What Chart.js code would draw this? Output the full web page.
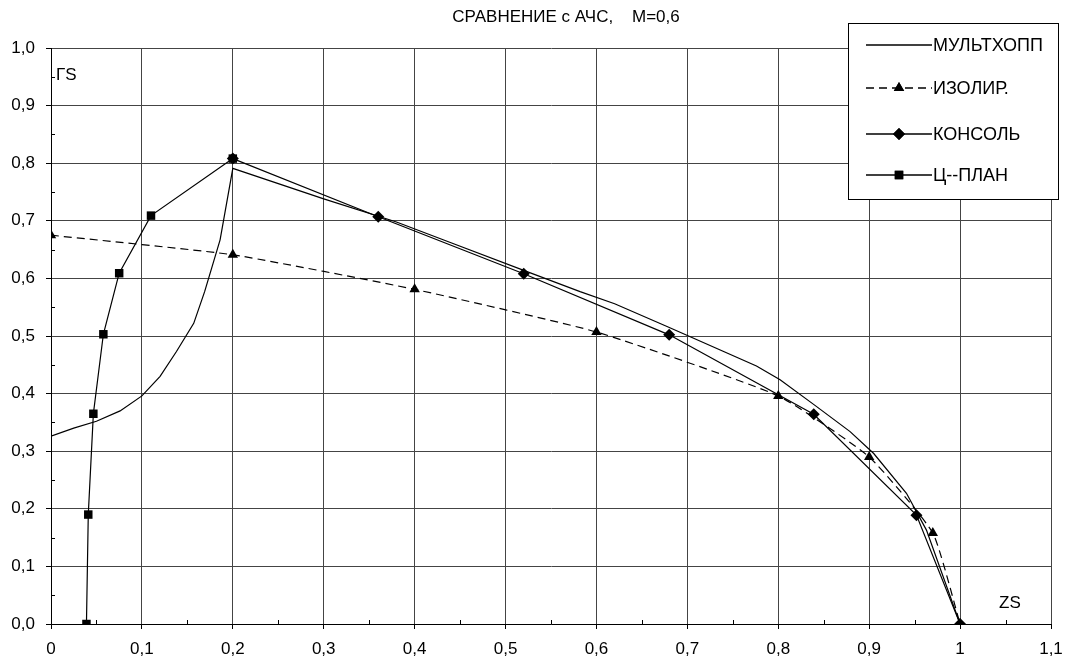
<!DOCTYPE html>
<html>
<head>
<meta charset="utf-8">
<script src="https://cdn.jsdelivr.net/npm/chart.js@4.4.0/dist/chart.umd.min.js"></script>
<style>
  html, body { margin: 0; padding: 0; background: #fff; }
  #wrap { width: 1067px; height: 660px; position: relative; }
</style>
</head>
<body>
<div id="wrap"><canvas id="LineChart"></canvas></div>
<script>
const chartTitle = "СРАВНЕНИЕ с АЧС,    M=0,6";
const xAxisName = "ZS";
const yAxisName = "ГS";

const xTickLabels = ["0", "0,1", "0,2", "0,3", "0,4", "0,5", "0,6", "0,7", "0,8", "0,9", "1", "1,1"];
const yTickLabels = ["0,0", "0,1", "0,2", "0,3", "0,4", "0,5", "0,6", "0,7", "0,8", "0,9", "1,0"];

const seriesNames = ["МУЛЬТХОПП", "ИЗОЛИР.", "КОНСОЛЬ", "Ц--ПЛАН"];

const multX = [0, 0.025, 0.05, 0.076, 0.1, 0.12, 0.138, 0.157, 0.169, 0.186, 0.2, 0.3, 0.38, 0.44, 0.52, 0.582, 0.62, 0.677, 0.776, 0.802, 0.84, 0.879, 0.905, 0.941, 0.963, 1.0];
const multY = [0.326, 0.34, 0.352, 0.37, 0.396, 0.43, 0.473, 0.522, 0.577, 0.667, 0.791, 0.738, 0.698, 0.662, 0.614, 0.577, 0.556, 0.517, 0.448, 0.424, 0.38, 0.334, 0.296, 0.227, 0.163, 0.0];

const izolX = [0, 0.2, 0.4, 0.6, 0.8, 0.9, 0.97, 1.0];
const izolY = [0.675, 0.641, 0.581, 0.507, 0.396, 0.29, 0.158, 0.0];

const konsX = [0.2, 0.36, 0.52, 0.68, 0.839, 0.952, 1.0];
const konsY = [0.808, 0.707, 0.608, 0.502, 0.364, 0.189, 0.0];

const planX = [0.039, 0.041, 0.0466, 0.0576, 0.075, 0.11, 0.2];
const planY = [0.0, 0.19, 0.365, 0.503, 0.609, 0.709, 0.808];

const FONT = "'Liberation Sans', Arial, sans-serif";

function toPoints(xs, ys) {
  return xs.map((x, i) => ({ x: x, y: ys[i] }));
}

function lineDataset(label, data, opts) {
  return Object.assign({
    label: label,
    data: data,
    borderColor: "#000",
    backgroundColor: "#000",
    borderWidth: 1.2,
    pointBorderColor: "#000",
    pointBackgroundColor: "#000",
    pointBorderWidth: 0,
    pointRadius: 0,
    tension: 0,
    fill: false,
  }, opts);
}

// minor ticks, axis names, title and boxed legend
const extrasPlugin = {
  id: "extras",
  afterDraw(chart) {
    const { ctx, chartArea, scales } = chart;
    const xs = scales.x, ys = scales.y;
    ctx.save();
    ctx.strokeStyle = "#000";
    ctx.lineWidth = 1;
    for (let v = 0.05; v < 1.1; v += 0.1) {
      const px = Math.round(xs.getPixelForValue(v)) + 0.5;
      ctx.beginPath();
      ctx.moveTo(px, chartArea.bottom);
      ctx.lineTo(px, chartArea.bottom - 4);
      ctx.stroke();
    }
    for (let v = 0.05; v < 1.0; v += 0.1) {
      const py = Math.round(ys.getPixelForValue(v)) + 0.5;
      ctx.beginPath();
      ctx.moveTo(chartArea.left, py);
      ctx.lineTo(chartArea.left + 4, py);
      ctx.stroke();
    }

    ctx.fillStyle = "#000";
    ctx.font = "17px " + FONT;
    ctx.textAlign = "center";
    ctx.textBaseline = "middle";
    ctx.fillText(chartTitle, 566, 17);

    ctx.textAlign = "left";
    ctx.fillText(yAxisName, 56, 75);
    ctx.fillText(xAxisName, 999, 603);

    // legend box
    const bx = 848, by = 23, bw = 210, bh = 176;
    ctx.fillStyle = "#fff";
    ctx.fillRect(bx, by, bw, bh);
    ctx.strokeStyle = "#000";
    ctx.lineWidth = 1;
    ctx.strokeRect(bx + 0.5, by + 0.5, bw, bh);
    const rows = [45, 88, 134, 175];
    ctx.font = "18px " + FONT;
    chart.data.datasets.forEach((ds, i) => {
      const y = rows[i];
      ctx.strokeStyle = "#000";
      ctx.lineWidth = 1.3;
      ctx.setLineDash(ds.borderDash ? [8, 5] : []);
      ctx.beginPath();
      ctx.moveTo(866, y);
      ctx.lineTo(932, y);
      ctx.stroke();
      ctx.setLineDash([]);
      if (ds.pointRadius > 0) {
        Chart.helpers.drawPoint(ctx, {
          pointStyle: ds.pointStyle,
          radius: ds.pointRadius,
          rotation: 0,
          borderWidth: 0,
        }, 899, y);
        ctx.fillStyle = "#000";
        ctx.fill();
      }
      ctx.fillStyle = "#000";
      ctx.fillText(ds.label, 933, y + 1);
    });
    ctx.restore();
  },
};

const chartConfig = {
  type: "line",
  data: {
    datasets: [
      lineDataset(seriesNames[0], toPoints(multX, multY), {}),
      lineDataset(seriesNames[1], toPoints(izolX, izolY), {
        borderDash: [8, 5],
        pointStyle: "triangle",
        pointRadius: 6,
        tension: 0.15,
      }),
      lineDataset(seriesNames[2], toPoints(konsX, konsY), {
        pointStyle: "rectRot",
        pointRadius: 6,
      }),
      lineDataset(seriesNames[3], toPoints(planX, planY), {
        pointStyle: "rect",
        pointRadius: 6,
      }),
    ],
  },
  options: {
    responsive: true,
    maintainAspectRatio: false,
    animation: false,
    events: [],
    layout: {
      padding: { top: 48, right: 16, left: 0, bottom: 0 },
    },
    scales: {
      x: {
        type: "linear",
        min: 0,
        max: 1.1,
        afterBuildTicks(scale) {
          scale.ticks = xTickLabels.map((_, i) => ({ value: i / 10 }));
        },
        afterFit(scale) {
          scale.height = 36;
          scale.paddingLeft = 0;
          scale.paddingRight = 0;
        },
        border: { color: "#000", width: 1 },
        grid: { color: "#444", lineWidth: 1, tickLength: 5, tickColor: "#000" },
        ticks: {
          color: "#000",
          padding: 10,
          maxRotation: 0,
          autoSkip: false,
          font: { family: FONT, size: 17 },
          callback: (val, index) => xTickLabels[index],
        },
      },
      y: {
        type: "linear",
        min: 0,
        max: 1.0,
        afterBuildTicks(scale) {
          scale.ticks = yTickLabels.map((_, i) => ({ value: i / 10 }));
        },
        afterFit(scale) {
          scale.width = 51;
          scale.paddingTop = 0;
          scale.paddingBottom = 0;
        },
        border: { color: "#000", width: 1 },
        grid: { color: "#444", lineWidth: 1, tickLength: 5, tickColor: "#000" },
        ticks: {
          color: "#000",
          padding: 11,
          autoSkip: false,
          font: { family: FONT, size: 17 },
          callback: (val, index) => yTickLabels[index],
        },
      },
    },
    plugins: {
      legend: { display: false },
      tooltip: { enabled: false },
      title: { display: false },
    },
  },
  plugins: [extrasPlugin],
};

const lineChart = new Chart(document.getElementById("LineChart"), chartConfig);
</script>
</body>
</html>
